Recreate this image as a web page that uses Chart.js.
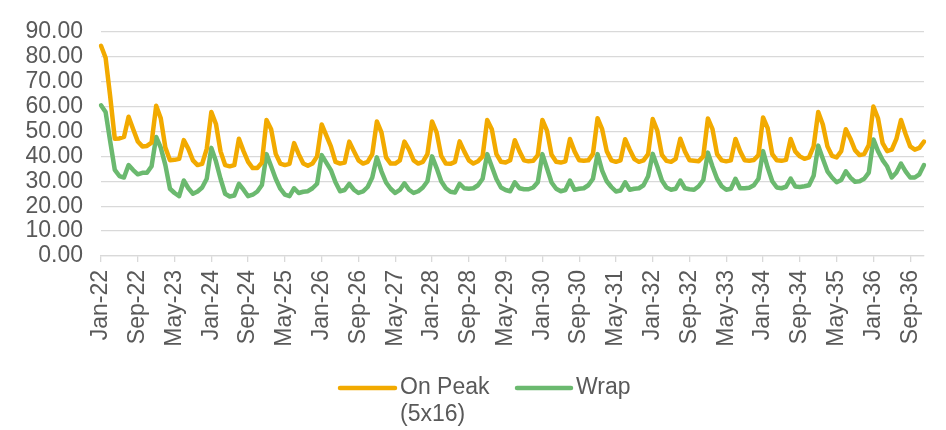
<!DOCTYPE html>
<html>
<head>
<meta charset="utf-8">
<script src="https://cdn.jsdelivr.net/npm/chart.js@4"></script>
<style>
  html, body { margin: 0; padding: 0; background: #fff; }
  #wrap { width: 946px; height: 430px; }
</style>
</head>
<body>
<div id="wrap"><canvas id="chart" width="946" height="430"></canvas></div>
<script>
// months Jan-22 .. Dec-36
const monthNames = ['Jan', 'Feb', 'Mar', 'Apr', 'May', 'Jun', 'Jul', 'Aug', 'Sep', 'Oct', 'Nov', 'Dec'];
const years = [22, 23, 24, 25, 26, 27, 28, 29, 30, 31, 32, 33, 34, 35, 36];
const labelEvery = 8;

const onPeak = [
  84.4, 79.6, 64.0, 47.1, 47.2, 47.8, 55.9, 50.9, 46.0, 44.0, 44.2, 45.5,
  60.3, 55.3, 43.5, 38.4, 38.6, 39.0, 46.5, 43.0, 38.4, 36.5, 37.0, 43.0,
  57.8, 53.0, 42.0, 36.5, 36.0, 36.5, 47.1, 42.1, 37.8, 35.3, 35.3, 37.5,
  54.6, 50.9, 41.0, 37.1, 36.5, 37.0, 45.3, 40.9, 37.1, 36.2, 37.1, 40.0,
  52.8, 48.4, 44.0, 37.8, 37.1, 37.5, 45.9, 42.1, 38.4, 37.1, 37.8, 40.9,
  54.0, 49.6, 39.6, 37.1, 37.1, 38.4, 45.9, 42.7, 38.4, 37.1, 37.8, 40.9,
  54.0, 49.6, 40.2, 37.1, 37.0, 37.8, 46.0, 42.0, 38.4, 37.1, 38.0, 40.0,
  54.6, 50.9, 40.9, 37.8, 37.5, 38.4, 46.5, 42.1, 38.4, 38.0, 38.2, 40.5,
  54.6, 50.3, 40.6, 37.8, 37.5, 38.0, 47.0, 42.0, 38.4, 38.2, 38.4, 41.0,
  55.3, 50.9, 42.1, 38.4, 37.8, 38.4, 46.9, 42.7, 38.9, 37.8, 38.4, 40.9,
  55.0, 50.3, 40.6, 38.2, 37.8, 39.0, 47.1, 42.0, 38.4, 38.2, 38.0, 40.0,
  55.2, 50.9, 40.9, 38.4, 38.0, 38.4, 47.0, 42.1, 38.4, 38.2, 38.5, 40.5,
  55.6, 51.3, 40.9, 38.4, 38.2, 38.6, 47.0, 42.0, 40.0, 39.0, 39.6, 44.0,
  57.8, 52.8, 44.0, 40.2, 39.6, 42.1, 50.9, 47.1, 42.5, 40.5, 40.9, 44.6,
  60.0, 55.3, 45.3, 42.1, 42.7, 47.0, 54.6, 49.0, 44.0, 42.7, 43.4, 45.9
];

const wrapPrices = [
  60.5, 57.8, 46.0, 34.6, 32.1, 31.5, 36.5, 34.5, 32.8, 33.4, 33.4, 36.0,
  47.8, 43.5, 36.5, 27.0, 25.3, 24.0, 30.3, 27.2, 25.0, 25.9, 27.5, 31.0,
  43.4, 38.0, 31.0, 25.0, 23.9, 24.3, 29.0, 26.6, 24.0, 24.6, 25.9, 28.5,
  40.9, 36.0, 31.0, 27.0, 24.6, 24.0, 27.2, 25.3, 25.8, 26.0, 27.2, 29.0,
  40.5, 37.5, 34.5, 29.6, 26.0, 26.5, 29.0, 26.6, 25.3, 25.9, 27.7, 31.5,
  39.6, 34.0, 29.5, 27.0, 25.3, 26.5, 29.2, 26.6, 25.3, 26.0, 27.5, 30.0,
  40.0, 35.3, 30.0, 27.2, 25.8, 25.5, 29.0, 27.2, 27.0, 27.2, 28.4, 31.0,
  40.9, 35.9, 30.9, 27.5, 26.5, 26.0, 29.6, 27.2, 26.8, 26.8, 27.5, 29.6,
  40.9, 35.2, 29.5, 27.0, 26.0, 26.5, 30.3, 26.6, 27.0, 27.2, 28.4, 31.0,
  40.9, 34.3, 30.0, 27.7, 25.9, 26.3, 29.6, 26.6, 27.0, 27.2, 28.4, 32.0,
  41.0, 35.9, 30.3, 27.5, 26.6, 27.0, 30.3, 27.2, 26.8, 26.6, 28.0, 30.5,
  41.5, 35.9, 31.0, 28.0, 26.6, 27.0, 31.0, 27.2, 27.2, 27.4, 28.4, 31.0,
  42.1, 35.5, 30.0, 27.5, 27.2, 27.8, 31.1, 27.9, 27.7, 28.0, 28.4, 32.2,
  44.3, 39.0, 34.0, 31.5, 29.6, 30.5, 34.0, 31.5, 29.8, 30.0, 31.0, 33.5,
  46.8, 42.1, 38.5, 35.9, 31.5, 33.5, 37.1, 34.0, 31.5, 31.5, 32.8, 36.5
];

const categories = [];
years.forEach(function(y) {
  monthNames.forEach(function(m) { categories.push(m + '-' + y); });
});

const textColor = '#595959';
const gridColor = '#d9d9d9';
const fontFamily = "'Liberation Sans', Arial, sans-serif";

// legend drawn by hand so the first entry can wrap onto two lines
const bottomLegend = {
  id: 'bottomLegend',
  afterDraw(chart) {
    const ctx = chart.ctx;
    const spots = [{ x1: 340, x2: 395, tx: 400 }, { x1: 517, x2: 571, tx: 576 }];
    const y = 388;
    ctx.save();
    ctx.font = '23px ' + fontFamily;
    ctx.textBaseline = 'middle';
    ctx.textAlign = 'left';
    chart.data.datasets.forEach(function(ds, i) {
      const s = spots[i];
      ctx.strokeStyle = ds.borderColor;
      ctx.lineWidth = 4.5;
      ctx.lineCap = 'round';
      ctx.beginPath();
      ctx.moveTo(s.x1, y);
      ctx.lineTo(s.x2, y);
      ctx.stroke();
      ctx.fillStyle = textColor;
      ds.label.split('\n').forEach(function(line, k) {
        ctx.fillText(line, s.tx, y + k * 27);
      });
    });
    ctx.restore();
  }
};

new Chart(document.getElementById('chart').getContext('2d'), {
  type: 'line',
  data: {
    labels: categories,
    datasets: [
      {
        label: 'On Peak\n(5x16)',
        data: onPeak,
        borderColor: '#F2AA00',
        backgroundColor: '#F2AA00',
        borderWidth: 4.5,
        pointRadius: 0,
        tension: 0,
        borderJoinStyle: 'round',
        borderCapStyle: 'round'
      },
      {
        label: 'Wrap',
        data: wrapPrices,
        borderColor: '#6BB96F',
        backgroundColor: '#6BB96F',
        borderWidth: 4.5,
        pointRadius: 0,
        tension: 0,
        borderJoinStyle: 'round',
        borderCapStyle: 'round'
      }
    ]
  },
  options: {
    responsive: false,
    animation: false,
    layout: { padding: { left: 0, right: 13, top: 16, bottom: 0 } },
    plugins: {
      legend: { display: false },
      tooltip: { enabled: false }
    },
    scales: {
      x: {
        type: 'category',
        offset: false,
        afterFit: function(scale) { scale.height = 174; },
        border: { color: gridColor, width: 1.3 },
        grid: {
          drawOnChartArea: false,
          drawTicks: true,
          tickLength: 6,
          color: gridColor,
          lineWidth: 1.3
        },
        ticks: {
          autoSkip: false,
          minRotation: 90,
          maxRotation: 90,
          padding: 8,
          color: textColor,
          font: { family: fontFamily, size: 23 },
          callback: function(value, index) {
            return index % labelEvery === 0 ? categories[index] : null;
          }
        }
      },
      y: {
        min: 0,
        max: 90,
        afterFit: function(scale) { scale.width = 101; },
        border: { display: false },
        grid: {
          color: gridColor,
          lineWidth: 1.3,
          drawTicks: false
        },
        ticks: {
          stepSize: 10,
          autoSkip: false,
          padding: 18,
          color: textColor,
          font: { family: fontFamily, size: 23 },
          callback: function(v) { return v.toFixed(2); }
        }
      }
    }
  },
  plugins: [bottomLegend]
});
</script>
</body>
</html>
